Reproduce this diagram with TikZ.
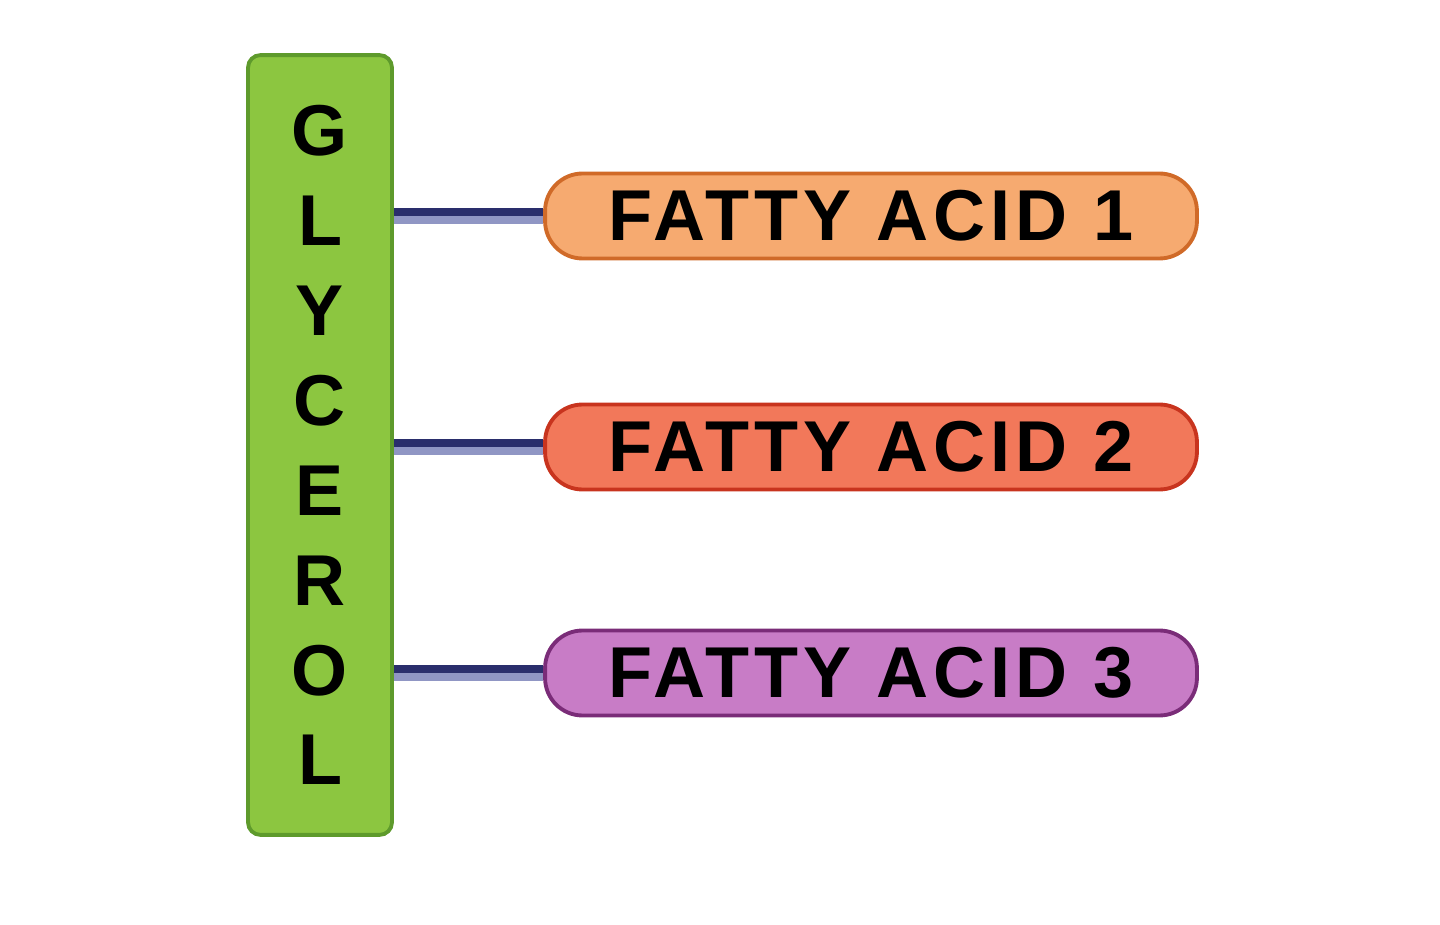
\documentclass[tikz,border=0pt]{standalone}
\usepackage{fontspec}
\setmainfont{Liberation Sans}
\usepackage{tikz}
\usetikzlibrary{arrows.meta}

\definecolor{glyfill}{HTML}{8CC640}
\definecolor{glydraw}{HTML}{5E9A2C}
\definecolor{faonefill}{HTML}{F6AA70}
\definecolor{faonedraw}{HTML}{D06A28}
\definecolor{fatwofill}{HTML}{F2785A}
\definecolor{fatwodraw}{HTML}{C8341E}
\definecolor{fathreefill}{HTML}{C87CC6}
\definecolor{fathreedraw}{HTML}{7A2C78}
\definecolor{bonddark}{HTML}{2A2E6C}
\definecolor{bondlight}{HTML}{9096C4}

\begin{document}
\begin{tikzpicture}[x=0.02cm, y=-0.02cm]
    \tikzstyle{glybox} = [draw=glydraw, fill=glyfill, line width=2.2pt, rectangle, rounded corners=0.25cm, minimum width=2.88cm, minimum height=15.6cm, align=center, inner sep=0pt, font=\fontsize{41}{51.2}\selectfont\bfseries];
    \tikzstyle{acid} = [line width=2.2pt, rectangle, rounded corners=0.75cm, minimum width=13.04cm, minimum height=1.7cm, inner sep=0pt, font=\fontsize{41}{41}\selectfont\bfseries\addfontfeature{LetterSpace=7}];
    \tikzstyle{bondtop} = [draw=bonddark, line width=4.4pt];
    \tikzstyle{bondbot} = [draw=bondlight, line width=4.4pt];
    \useasboundingbox (0,0) rectangle (1440,925);
    \node[glybox] (glycerol) at (320,445) {G\\L\\Y\\C\\E\\R\\O\\L};
    \node[acid, draw=faonedraw, fill=faonefill] (acid1) at (871,216) {FATTY ACID 1};
    \node[acid, draw=fatwodraw, fill=fatwofill] (acid2) at (871,447) {FATTY ACID 2};
    \node[acid, draw=fathreedraw, fill=fathreefill] (acid3) at (871,673) {FATTY ACID 3};
    \foreach \n in {acid1,acid2,acid3}
    {
        \path[bondtop] ([yshift=2.2pt]glycerol.east |- \n.west) -- ([yshift=2.2pt]\n.west);
        \path[bondbot] ([yshift=-2.2pt]glycerol.east |- \n.west) -- ([yshift=-2.2pt]\n.west);
    }
\end{tikzpicture}
\end{document}
